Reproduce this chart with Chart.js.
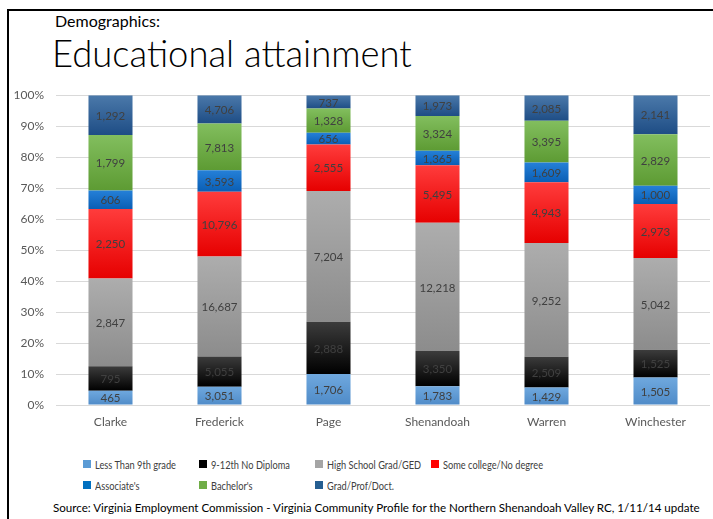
<!DOCTYPE html>
<html>
<head>
<meta charset="utf-8">
<script src="https://cdn.jsdelivr.net/npm/chart.js@4/dist/chart.umd.min.js"></script>
<style>
  html, body { margin: 0; padding: 0; background: #fff; }
  body { width: 713px; height: 519px; position: relative; overflow: hidden; font-family: Lato, "Open Sans", sans-serif; }
  #frameL { position: absolute; left: 7px; top: 9px; width: 2px; height: 520px; background: #000; }
  #frameT { position: absolute; left: 7px; top: 9px; width: 710px; height: 2px; background: #000; }
  .txt { position: absolute; white-space: nowrap; line-height: 1; }
  #sub { left: 55px; top: 13px; font-size: 17px; color: #000; }
  #title { left: 52px; top: 35px; font-size: 33px; font-weight: 300; color: #000; }
  #chartWrap { position: absolute; left: 0; top: 80px; width: 713px; height: 355px; }
  #legend { position: absolute; left: 83px; top: 457px; width: 620px; }
  .lrow { height: 21px; position: relative; }
  .litem { position: absolute; top: 0; display: flex; align-items: center; font-size: 12px; color: #404040; height: 14px; white-space: nowrap; }
  .lbox { width: 8px; height: 8px; margin-right: 4px; flex: none; }
  .ltxt { display: inline-block; transform-origin: 0 50%; }
  #source { left: 53px; top: 502px; font-size: 11px; color: #000; }
</style>
</head>
<body>
<div id="frameL"></div>
<div id="frameT"></div>
<div class="txt" id="sub">Demographics:</div>
<div class="txt" id="title">Educational attainment</div>
<div id="chartWrap"><canvas id="c" width="713" height="355"></canvas></div>
<div id="legend"></div>
<div class="txt" id="source">Source: Virginia Employment Commission - Virginia Community Profile for the Northern Shenandoah Valley RC, 1/11/14 update</div>
<script>
// ---- Data ----
const categories = ["Clarke", "Frederick", "Page", "Shenandoah", "Warren", "Winchester"];
const seriesNames = ["Less Than 9th grade", "9-12th No Diploma", "High School Grad/GED", "Some college/No degree", "Associate's", "Bachelor's", "Grad/Prof/Doct."];
const lessThan9th   = [465, 3051, 1706, 1783, 1429, 1505];
const noDiploma     = [795, 5055, 2888, 3350, 2509, 1525];
const highSchool    = [2847, 16687, 7204, 12218, 9252, 5042];
const someCollege   = [2250, 10796, 2555, 5495, 4943, 2973];
const associates    = [606, 3593, 656, 1365, 1609, 1000];
const bachelors     = [1799, 7813, 1328, 3324, 3395, 2829];
const gradProf      = [1292, 4706, 737, 1973, 2085, 2141];
const yTicks = [0, 10, 20, 30, 40, 50, 60, 70, 80, 90, 100];

// ---- Styles ----
const colorsTop    = ["#6fa8de", "#3c3c3c", "#adadad", "#ff3c3c", "#2580d8", "#82be5e", "#4b79aa"];
const colorsBottom = ["#4f8bc8", "#000000", "#8c8c8c", "#e60000", "#0a5eb4", "#5d9b33", "#1e4d85"];
const legendColors = ["#5b9bd5", "#000000", "#a5a5a5", "#ff0000", "#0070c0", "#70ad47", "#255e91"];

const raw = [lessThan9th, noDiploma, highSchool, someCollege, associates, bachelors, gradProf];
const totals = categories.map((_, i) => raw.reduce((s, a) => s + a[i], 0));
const pct = raw.map(a => a.map((v, i) => v / totals[i] * 100));

function gradFill(k) {
  return function (ctx) {
    const chart = ctx.chart;
    const ys = chart.scales && chart.scales.y;
    if (!chart.chartArea || !ys || ctx.dataIndex === undefined) return colorsBottom[k];
    const i = ctx.dataIndex;
    let below = 0;
    for (let j = 0; j < k; j++) below += pct[j][i];
    const yTop = ys.getPixelForValue(below + pct[k][i]);
    const yBot = ys.getPixelForValue(below);
    if (!isFinite(yTop) || !isFinite(yBot) || yTop === yBot) return colorsBottom[k];
    const g = chart.ctx.createLinearGradient(0, yTop, 0, yBot);
    g.addColorStop(0, colorsTop[k]);
    g.addColorStop(1, colorsBottom[k]);
    return g;
  };
}

const datasets = seriesNames.map((name, k) => ({
  label: name,
  data: pct[k],
  backgroundColor: gradFill(k),
  borderWidth: 0,
  barPercentage: 0.404,
  categoryPercentage: 1.0
}));

const valueLabels = {
  id: 'valueLabels',
  afterDatasetsDraw(chart) {
    const c = chart.ctx;
    c.save();
    c.font = '11.5px Lato, "Open Sans", sans-serif';
    c.fillStyle = '#404040';
    c.textAlign = 'center';
    c.textBaseline = 'middle';
    chart.data.datasets.forEach((ds, k) => {
      const meta = chart.getDatasetMeta(k);
      meta.data.forEach((el, i) => {
        const v = raw[k][i];
        c.fillText(v.toLocaleString('en-US'), el.x, (el.y + el.base) / 2 + 1);
      });
    });
    c.restore();
  }
};

Chart.defaults.font.family = 'Lato, "Open Sans", sans-serif';
const chart = new Chart(document.getElementById('c'), {
  type: 'bar',
  data: { labels: categories, datasets },
  options: {
    responsive: false,
    maintainAspectRatio: false,
    animation: false,
    layout: { padding: { left: 0, right: 3, top: 0, bottom: 0 } },
    plugins: { legend: { display: false }, tooltip: { enabled: false } },
    scales: {
      x: {
        stacked: true,
        grid: { display: false, drawTicks: false },
        border: { display: false },
        ticks: { color: '#595959', font: { size: 12 }, padding: 10 },
        afterFit: s => { s.height = 30; }
      },
      y: {
        stacked: true,
        min: 0, max: 100,
        afterBuildTicks: s => { s.ticks = yTicks.map(v => ({ value: v })); },
        grid: { color: '#d9d9d9', drawTicks: false, lineWidth: 1 },
        border: { display: false },
        ticks: { color: '#595959', font: { size: 12 }, padding: 12, callback: v => v + '%' },
        afterFit: s => { s.width = 56; }
      }
    }
  },
  plugins: [valueLabels]
});

// place the plot area at the reference position (top 95, bottom 405)
(function place() {
  const wrap = document.getElementById('chartWrap');
  const a = chart.chartArea;
  const h = Math.round(chart.height + (310 - (a.bottom - a.top)));
  wrap.style.height = h + 'px';
  chart.resize(713, h);
  wrap.style.top = Math.round(95 - chart.chartArea.top) + 'px';
})();

// ---- Legend ----
const legend = document.getElementById('legend');
const perRow = 4, colW = 116;
const textSpans = [];
for (let r = 0; r * perRow < seriesNames.length; r++) {
  const row = document.createElement('div');
  row.className = 'lrow';
  for (let k = r * perRow; k < Math.min(seriesNames.length, (r + 1) * perRow); k++) {
    const it = document.createElement('div');
    it.className = 'litem';
    it.style.left = ((k - r * perRow) * colW) + 'px';
    const b = document.createElement('span');
    b.className = 'lbox';
    b.style.background = legendColors[k];
    const t = document.createElement('span');
    t.className = 'ltxt';
    t.textContent = seriesNames[k];
    textSpans.push(t);
    it.appendChild(b); it.appendChild(t);
    row.appendChild(it);
  }
  legend.appendChild(row);
}

// fit text widths to reference
function fitWidth(el, target) {
  const w = el.getBoundingClientRect().width;
  const fs = parseFloat(getComputedStyle(el).fontSize);
  return fs * target / w;
}
document.getElementById('title').style.fontSize = fitWidth(document.getElementById('title'), 360) + 'px';
document.getElementById('sub').style.fontSize = fitWidth(document.getElementById('sub'), 105) + 'px';
document.getElementById('source').style.fontSize = fitWidth(document.getElementById('source'), 647) + 'px';
const sx = 81 / textSpans[0].getBoundingClientRect().width;
textSpans.forEach(t => t.style.transform = 'scaleX(' + sx + ')');
</script>
</body>
</html>
